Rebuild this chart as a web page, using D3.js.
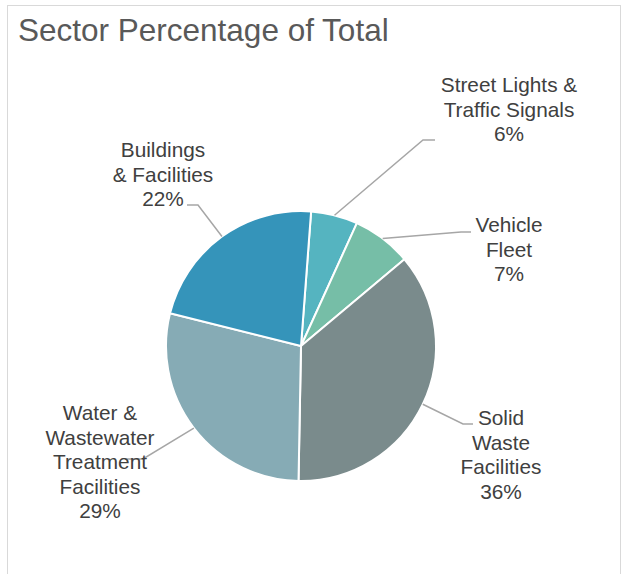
<!DOCTYPE html>
<html>
<head>
<meta charset="utf-8">
<script src="https://cdn.jsdelivr.net/npm/d3@7"></script>
<style>
  html, body { margin: 0; padding: 0; background: #fff; }
  svg { display: block; font-family: "Liberation Sans", Arial, sans-serif; }
</style>
</head>
<body>
<div id="chart"></div>
<script>
// Sector shares, clockwise from the top
const sectors = ['Street Lights & Traffic Signals', 'Vehicle Fleet', 'Solid Waste Facilities',
  'Water & Wastewater Treatment Facilities', 'Buildings & Facilities'];
const shares = [5.6, 7.1, 36.4, 28.6, 22.3];
const labelLines = [
  ['Street Lights &', 'Traffic Signals'],
  ['Vehicle', 'Fleet'],
  ['Solid', 'Waste', 'Facilities'],
  ['Water &', 'Wastewater', 'Treatment', 'Facilities'],
  ['Buildings', '& Facilities'],
];
const colours = ['#55b4c0', '#76bea7', '#7a8b8c', '#86abb5', '#3594ba'];

const WIDTH = 624;
const HEIGHT = 574;
const CX = 301;
const CY = 346;
const R = 135;
const START = 4.3 * Math.PI / 180;
const LINE_H = 24.5;

// hand placed label boxes (centre x, first baseline) and leader elbows
const labelPos = [
  {x: 509, y: 92, elbow: [423, 140], end: [435, 140]},
  {x: 509, y: 232, elbow: [461, 232], end: [471, 232]},
  {x: 501, y: 425, elbow: [463, 424], end: [473, 424]},
  {x: 100, y: 420, elbow: [143, 459], end: [125, 459]},
  {x: 163, y: 157, elbow: [198, 205], end: [187, 205]},
];

function translate(x, y) {
  return `translate(${x}, ${y})`;
}

const svg = d3.select('#chart').append('svg')
  .attr('width', WIDTH)
  .attr('height', HEIGHT);

svg.append('rect')
  .attr('x', 7.5)
  .attr('y', 5.5)
  .attr('width', 613)
  .attr('height', 600)
  .attr('fill', '#fff')
  .attr('stroke', '#d9d9d9')
  .attr('stroke-width', 1);

svg.append('text')
  .attr('x', 18)
  .attr('y', 41)
  .attr('font-size', 31.5)
  .attr('fill', '#595959')
  .text('Sector Percentage of Total');

const pie = d3.pie()
  .sort(null)
  .value(d => d)
  .startAngle(START)
  .endAngle(START + 2 * Math.PI);

const arcs = pie(shares);
const total = d3.sum(shares);

const arc = d3.arc().innerRadius(0).outerRadius(R);

const g = svg.append('g').attr('transform', translate(CX, CY));

g.selectAll('path.slice')
  .data(arcs)
  .enter().append('path')
  .attr('class', 'slice')
  .attr('d', arc)
  .attr('fill', (d, i) => colours[i])
  .attr('stroke', '#fff')
  .attr('stroke-width', 2)
  .attr('stroke-linejoin', 'round');

// leader lines
arcs.forEach((d, i) => {
  const mid = (d.startAngle + d.endAngle) / 2;
  const p0 = [CX + R * Math.sin(mid), CY - R * Math.cos(mid)];
  const pos = labelPos[i];
  svg.append('polyline')
    .attr('points', [p0, pos.elbow, pos.end].map(p => p.join(',')).join(' '))
    .attr('fill', 'none')
    .attr('stroke', '#a6a6a6')
    .attr('stroke-width', 1.5);
});

// labels
arcs.forEach((d, i) => {
  const pos = labelPos[i];
  const lines = [...labelLines[i], `${Math.round(d.value / total * 100)}%`];
  const t = svg.append('text')
    .attr('text-anchor', 'middle')
    .attr('font-size', 20.8)
    .attr('fill', '#404040');
  lines.forEach((ln, j) => {
    t.append('tspan')
      .attr('x', pos.x)
      .attr('y', pos.y + j * LINE_H)
      .text(ln);
  });
});
</script>
</body>
</html>
